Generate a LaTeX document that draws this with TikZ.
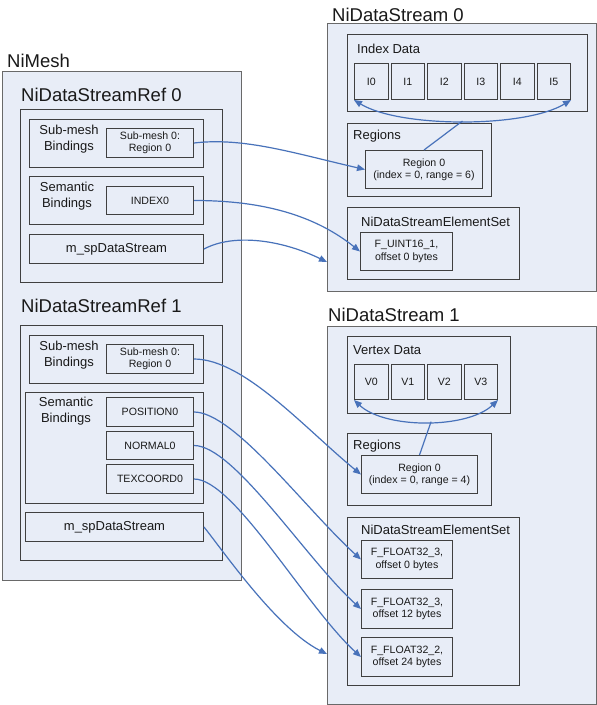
\documentclass[tikz,border=0pt]{standalone}
\usepackage{fontspec}
\setmainfont{Liberation Sans}
\usetikzlibrary{arrows.meta}
\definecolor{boxfill}{RGB}{232,237,247}
\definecolor{edgec}{RGB}{64,64,64}
\definecolor{outedge}{RGB}{105,105,105}
\definecolor{linkc}{RGB}{72,114,186}
\definecolor{ink}{RGB}{25,25,25}
\newcommand\fTitle{\fontsize{18.5}{22}\selectfont}
\newcommand\fGrp{\fontsize{13}{16}\selectfont}
\newcommand\fSmall{\fontsize{10.6}{12.3}\selectfont}
\newcommand\bx[6]{\node[#1,minimum width={#4pt-#2pt},minimum height={#5pt-#3pt},anchor=north west] (#6) at (#2,#3)}
\begin{document}
\begin{tikzpicture}[x=1pt,y=-1pt,
  >={Triangle[length=8pt,width=6.5pt]},
  grp/.style={draw=edgec, fill=boxfill, line width=1pt, inner sep=0pt},
  outer/.style={grp, draw=outedge, line width=1.3pt},
  cell/.style={grp, font=\fSmall, text=ink, align=center},
  lbl/.style={font=\fGrp, text=ink, inner sep=0pt},
  ttl/.style={font=\fTitle, text=ink, inner sep=0pt, anchor=west},
  conn/.style={draw=linkc, line width=1.2pt, ->},
  plainlink/.style={draw=linkc, line width=1.2pt}]
\useasboundingbox (0,0) rectangle (597,705);
\fill[white] (0,0) rectangle (597,705);

% ---------------- NiMesh ----------------
\bx{outer}{2}{71}{241}{580}{mesh} {};
\node[ttl] (meshT) at (7,61) {NiMesh};

\bx{grp}{20}{109}{222}{282}{ref0} {};
\node[ttl] (ref0T) at (21,95) {NiDataStreamRef 0};
\bx{grp}{29}{119}{203}{167}{sm0} {};
\node[lbl,align=center] (sm0T) at (69,139) {Sub-mesh\\Bindings};
\bx{cell}{106}{128}{193}{157}{sm0v} {Sub-mesh 0:\\Region 0};
\bx{grp}{29}{176}{203}{224}{sem0} {};
\node[lbl,align=center] (sem0T) at (67,196) {Semantic\\Bindings};
\bx{cell}{106}{186}{193}{214}{idx0} {INDEX0};
\bx{cell,font=\fGrp}{29}{234}{203}{263}{ds0} {m\_spDataStream};

\bx{grp}{20}{325}{222}{560}{ref1} {};
\node[ttl] (ref1T) at (21,306) {NiDataStreamRef 1};
\bx{grp}{29}{335}{203}{383}{sm1} {};
\node[lbl,align=center] (sm1T) at (69,355) {Sub-mesh\\Bindings};
\bx{cell}{106}{344}{193}{373}{sm1v} {Sub-mesh 0:\\Region 0};
\bx{grp}{25}{392}{203}{503}{sem1} {};
\node[lbl,align=center] (sem1T) at (66,411) {Semantic\\Bindings};
\bx{cell}{106}{397}{193}{426}{pos} {POSITION0};
\bx{cell}{106}{431}{193}{459}{nor} {NORMAL0};
\bx{cell}{106}{464}{193}{493}{tex} {TEXCOORD0};
\bx{cell,font=\fGrp}{25}{512}{203}{541}{ds1} {m\_spDataStream};

% ---------------- NiDataStream 0 ----------------
\bx{outer}{327}{23}{596}{291}{st0} {};
\node[ttl] (st0T) at (332,15) {NiDataStream 0};
\bx{grp}{347}{34}{587}{111}{idxd} {};
\node[lbl,anchor=west] (idxdT) at (357,49) {Index Data};
\bx{cell}{354}{63}{387.5}{99}{I0} {I0};
\bx{cell}{390.5}{63}{424}{99}{I1} {I1};
\bx{cell}{427}{63}{460.5}{99}{I2} {I2};
\bx{cell}{463.5}{63}{497}{99}{I3} {I3};
\bx{cell}{500}{63}{533.5}{99}{I4} {I4};
\bx{cell}{536.5}{63}{570}{99}{I5} {I5};
\bx{grp}{347}{123}{491}{196}{reg0} {};
\node[lbl,anchor=west] (reg0T) at (353,136) {Regions};
\bx{cell}{365}{150}{482}{188}{r0} {Region 0\\(index = 0, range = 6)};
\bx{grp}{347}{207}{519}{279}{es0} {};
\node[lbl,anchor=west] (es0T) at (361,222) {NiDataStreamElementSet};
\bx{cell}{360}{232}{452}{270}{u16} {F\_UINT16\_1,\\offset 0 bytes};

% ---------------- NiDataStream 1 ----------------
\bx{outer}{327}{326}{596}{704}{st1} {};
\node[ttl] (st1T) at (328,315) {NiDataStream 1};
\bx{grp}{347}{336}{510}{413}{vd} {};
\node[lbl,anchor=west] (vdT) at (353,350) {Vertex Data};
\bx{cell}{354}{364}{387.5}{399}{V0} {V0};
\bx{cell}{390.5}{364}{424}{399}{V1} {V1};
\bx{cell}{427}{364}{460.5}{399}{V2} {V2};
\bx{cell}{463.5}{364}{497}{399}{V3} {V3};
\bx{grp}{347}{433}{491}{505}{reg1} {};
\node[lbl,anchor=west] (reg1T) at (353,446) {Regions};
\bx{cell}{361}{455}{477}{493}{r1} {Region 0\\(index = 0, range = 4)};
\bx{grp}{347}{517}{519}{685}{es1} {};
\node[lbl,anchor=west] (es1T) at (361,530) {NiDataStreamElementSet};
\bx{cell}{361}{540}{452}{578}{f1} {F\_FLOAT32\_3,\\offset 0 bytes};
\bx{cell}{361}{589}{452}{628}{f2} {F\_FLOAT32\_3,\\offset 12 bytes};
\bx{cell}{361}{637}{452}{676}{f3} {F\_FLOAT32\_2,\\offset 24 bytes};

% ---------------- connectors ----------------
\draw[conn,<->] (I0.south west) .. controls +(46,28) and +(-46,28) .. (I5.south east) coordinate[pos=0.5] (m0);
\draw[plainlink] (r0.north) -- (m0);
\draw[conn,<->] (V0.south west) .. controls +(31,29) and +(-31,29) .. (V3.south east) coordinate[pos=0.53] (m1);
\draw[plainlink] (r1.north) -- (m1);

\path (st0.north west) ++(0,239) coordinate (t0);
\path (st1.north west) ++(0,328) coordinate (t1);

\draw[conn] (sm0v.east) .. controls +(50,-6) and +(-70,-16) .. (r0.west);
\draw[conn] (idx0.east) .. controls +(60,0) and +(-50,-40) .. (u16.west);
\draw[conn] (ds0.east) .. controls +(30,-16) and +(-45,-22) .. (t0);
\draw[conn] (sm1v.east) .. controls +(50,0) and +(-55,-45) .. (r1.west);
\draw[conn] (pos.east) .. controls +(40,0) and +(-55,-50) .. (f1.west);
\draw[conn] (nor.east) .. controls +(40,0) and +(-55,-50) .. (f2.west);
\draw[conn] (tex.east) .. controls +(40,0) and +(-55,-50) .. (f3.west);
\draw[conn] (ds1.east) .. controls +(20,25) and +(-50,-25) .. (t1);
\end{tikzpicture}
\end{document}
